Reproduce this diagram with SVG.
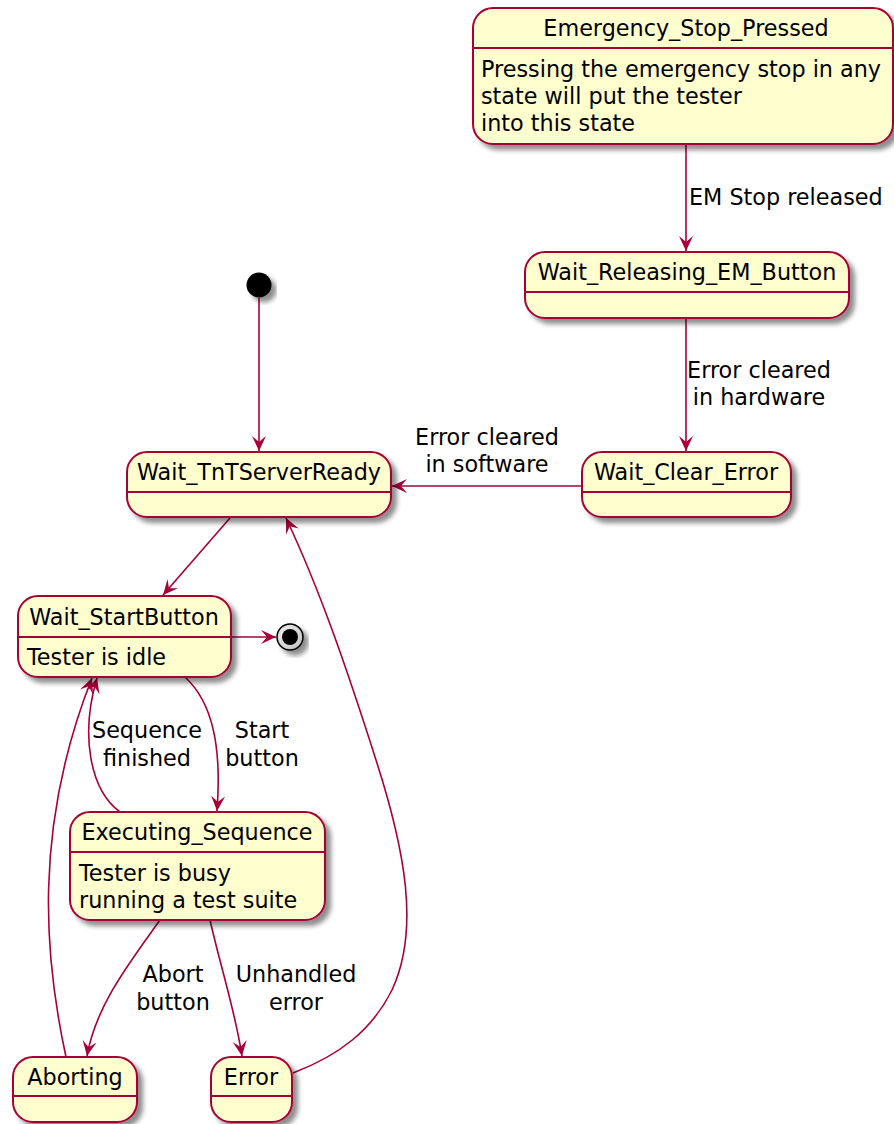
<svg xmlns="http://www.w3.org/2000/svg" width="894" height="1124" viewBox="0 0 894 1124">
  <style>
    .st { fill: #FEFECE; stroke: #A80036; stroke-width: 2; filter: url(#shadow); }
    .sep { stroke: #A80036; stroke-width: 2; }
    .ttl { font-family: "DejaVu Sans", sans-serif; font-size: 22.3px; fill: #000; text-anchor: middle; }
    .body { font-family: "DejaVu Sans", sans-serif; font-size: 22.3px; fill: #000; }
    .lbl { font-family: "DejaVu Sans", sans-serif; font-size: 22.3px; fill: #000; text-anchor: middle; }
    .edge { fill: none; stroke: #A80036; stroke-width: 1.6; marker-end: url(#arrow); }
  </style>
  <defs>
    <filter id="shadow" x="-10%" y="-10%" width="130%" height="140%">
      <feGaussianBlur in="SourceAlpha" stdDeviation="2.5"/>
      <feOffset dx="5" dy="5" result="b"/>
      <feComponentTransfer><feFuncA type="linear" slope="0.45"/></feComponentTransfer>
      <feMerge><feMergeNode/><feMergeNode in="SourceGraphic"/></feMerge>
    </filter>
    <radialGradient id="ring" cx="0.4" cy="0.4" r="0.7">
      <stop offset="0" stop-color="#FFFFFF"/>
      <stop offset="1" stop-color="#BBBBBB"/>
    </radialGradient>
    <marker id="arrow" viewBox="-16 -8 17 16" refX="0" refY="0" markerWidth="17" markerHeight="16" markerUnits="userSpaceOnUse" orient="auto">
      <path d="M0,0 L-15,-7 L-9,0 L-15,7 Z" fill="#A80036"/>
    </marker>
  </defs>
  <rect width="894" height="1124" fill="#FFFFFF"/>

  <!-- transitions -->
  <g id="connectors">
    <path class="edge" d="M686,144 L686,251"/>
    <path class="edge" d="M686,318 L686,451"/>
    <path class="edge" d="M582,486 L392,486"/>
    <path class="edge" d="M259,298 L259,451"/>
    <path class="edge" d="M230,518 L163,595"/>
    <path class="edge" d="M231,637 L276,637"/>
    <path class="edge" d="M185,677 C212,702 222,745 217,811"/>
    <path class="edge" d="M120,812 C90,790 80,735 97,678"/>
    <path class="edge" d="M66,1057 C45,960 32,830 92,678"/>
    <path class="edge" d="M160,920 C130,962 96,1005 87,1056"/>
    <path class="edge" d="M210,920 C220,965 235,1010 242,1056"/>
    <path class="edge" d="M293,1073 C340,1055 372,1030 392,990 C420,930 405,850 376,760 C348,672 320,590 286,518"/>

    <text class="body" x="689" y="205">EM Stop released</text>
    <text class="lbl" x="759" y="378">Error cleared</text>
    <text class="lbl" x="759" y="405">in hardware</text>
    <text class="lbl" x="487" y="445">Error cleared</text>
    <text class="lbl" x="487" y="472">in software</text>
    <text class="lbl" x="147" y="738">Sequence</text>
    <text class="lbl" x="147" y="766">finished</text>
    <text class="lbl" x="262" y="738">Start</text>
    <text class="lbl" x="262" y="766">button</text>
    <text class="lbl" x="173" y="982">Abort</text>
    <text class="lbl" x="173" y="1010">button</text>
    <text class="lbl" x="296" y="982">Unhandled</text>
    <text class="lbl" x="296" y="1010">error</text>
  </g>

  <g id="initial">
    <circle cx="259" cy="285" r="12.5" fill="#000" filter="url(#shadow)"/>
  </g>

  <g id="final">
    <circle cx="290" cy="637" r="13" fill="url(#ring)" stroke="#000" stroke-width="1.5" filter="url(#shadow)"/>
    <circle cx="290" cy="637" r="8" fill="#000"/>
  </g>

  <g id="Emergency_Stop_Pressed">
    <rect class="st" x="473" y="8" width="420" height="136" rx="20"/>
    <line class="sep" x1="473" y1="48" x2="893" y2="48"/>
    <text class="ttl" x="686" y="36">Emergency_Stop_Pressed</text>
    <text class="body" x="481" y="77">Pressing the emergency stop in any</text>
    <text class="body" x="481" y="104">state will put the tester</text>
    <text class="body" x="481" y="131">into this state</text>
  </g>

  <g id="Wait_Releasing_EM_Button">
    <rect class="st" x="525" y="252" width="324" height="66" rx="20"/>
    <line class="sep" x1="525" y1="292" x2="849" y2="292"/>
    <text class="ttl" x="687" y="280">Wait_Releasing_EM_Button</text>
  </g>

  <g id="Wait_Clear_Error">
    <rect class="st" x="582" y="452" width="209" height="65" rx="20"/>
    <line class="sep" x1="582" y1="492" x2="791" y2="492"/>
    <text class="ttl" x="686" y="480">Wait_Clear_Error</text>
  </g>

  <g id="Wait_TnTServerReady">
    <rect class="st" x="127" y="452" width="264" height="65" rx="20"/>
    <line class="sep" x1="127" y1="492" x2="391" y2="492"/>
    <text class="ttl" x="259" y="480">Wait_TnTServerReady</text>
  </g>

  <g id="Wait_StartButton">
    <rect class="st" x="18" y="596" width="213" height="81" rx="20"/>
    <line class="sep" x1="18" y1="637" x2="231" y2="637"/>
    <text class="ttl" x="124" y="625">Wait_StartButton</text>
    <text class="body" x="27" y="665">Tester is idle</text>
  </g>

  <g id="Executing_Sequence">
    <rect class="st" x="70" y="812" width="255" height="108" rx="20"/>
    <line class="sep" x1="70" y1="852" x2="325" y2="852"/>
    <text class="ttl" x="197" y="840">Executing_Sequence</text>
    <text class="body" x="79" y="881">Tester is busy</text>
    <text class="body" x="79" y="908">running a test suite</text>
  </g>

  <g id="Aborting">
    <rect class="st" x="13" y="1057" width="124" height="65" rx="20"/>
    <line class="sep" x1="13" y1="1096" x2="137" y2="1096"/>
    <text class="ttl" x="75" y="1085">Aborting</text>
  </g>

  <g id="Error">
    <rect class="st" x="211" y="1057" width="81" height="65" rx="20"/>
    <line class="sep" x1="211" y1="1096" x2="292" y2="1096"/>
    <text class="ttl" x="251" y="1085">Error</text>
  </g>
</svg>
